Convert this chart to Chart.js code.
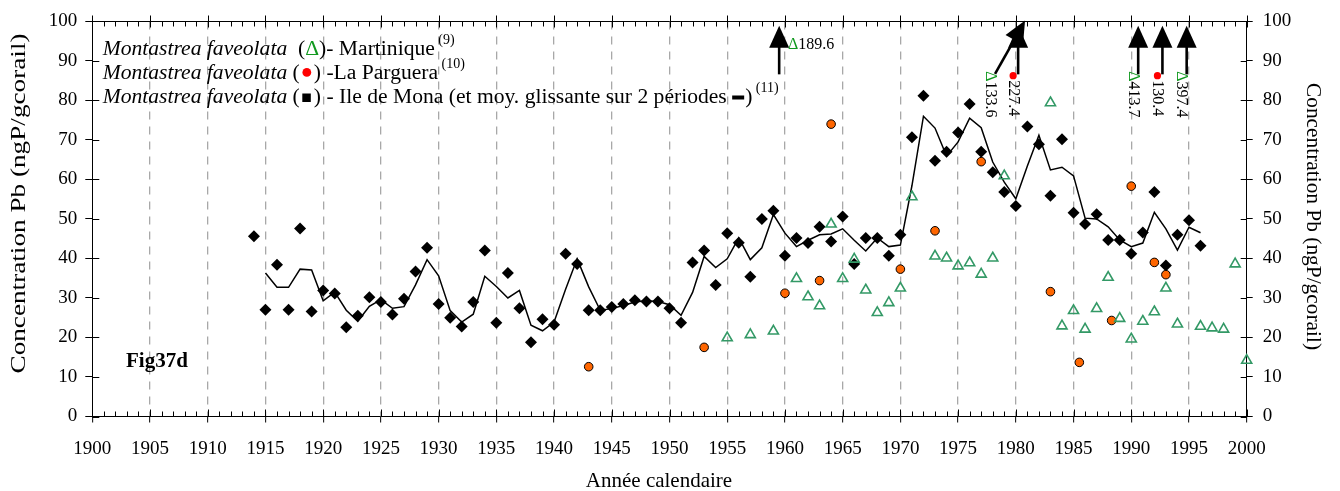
<!DOCTYPE html>
<html>
<head>
<meta charset="utf-8">
<title>Fig37d</title>
<script src="https://cdn.jsdelivr.net/npm/chart.js@4.4.1/dist/chart.umd.min.js"></script>
<style>
html,body{margin:0;padding:0;background:#ffffff;overflow:hidden;}
canvas{display:block;}
</style>
</head>
<body>
<canvas id="chart" width="1340" height="491"></canvas>
<script>
// ---------------- DATA ----------------
const monaYears = [1914,1915,1916,1917,1918,1919,1920,1921,1922,1923,1924,1925,1926,1927,1928,1929,1930,1931,1932,1933,1934,1935,1936,1937,1938,1939,1940,1941,1942,1943,1944,1945,1946,1947,1948,1949,1950,1951,1952,1953,1954,1955,1956,1957,1958,1959,1960,1961,1962,1963,1964,1965,1966,1967,1968,1969,1970,1971,1972,1973,1974,1975,1976,1977,1978,1979,1980,1981,1982,1983,1984,1985,1986,1987,1988,1989,1990,1991,1992,1993,1994,1995,1996];
const monaValues = [45.6,27.0,38.4,27.0,47.6,26.6,31.9,31.1,22.6,25.5,30.2,29.0,25.8,29.8,36.7,42.7,28.5,25.0,22.8,29.0,42.0,23.7,36.3,27.4,18.8,24.6,23.2,41.2,38.6,26.9,26.9,27.7,28.5,29.4,29.1,29.1,27.4,23.7,39.0,42.0,33.3,46.4,44.0,35.4,50.0,52.1,40.7,45.2,43.9,48.0,44.3,50.6,38.6,45.2,45.2,40.7,46.0,70.7,81.2,64.7,67.0,71.9,79.1,67.0,61.8,56.8,53.3,73.4,68.9,55.9,70.2,51.6,48.7,51.2,44.7,44.7,41.2,46.6,56.8,38.2,46.0,49.7,43.2];

const avgYears = [1915,1916,1917,1918,1919,1920,1921,1922,1923,1924,1925,1926,1927,1928,1929,1930,1931,1932,1933,1934,1935,1936,1937,1938,1939,1940,1941,1942,1943,1944,1945,1946,1947,1948,1949,1950,1951,1952,1953,1954,1955,1956,1957,1958,1959,1960,1961,1962,1963,1964,1965,1966,1967,1968,1969,1970,1971,1972,1973,1974,1975,1976,1977,1978,1979,1980,1981,1982,1983,1984,1985,1986,1987,1988,1989,1990,1991,1992,1993,1994,1995,1996];
const avgValues = [36.3,32.7,32.7,37.3,37.1,29.3,31.5,26.9,24.1,27.9,29.6,27.4,27.8,33.3,39.7,35.6,26.8,23.9,25.9,35.5,32.9,30.0,31.9,23.1,21.7,23.9,32.2,39.9,32.8,26.9,27.3,28.1,29.0,29.3,29.1,28.3,25.6,31.4,40.5,37.7,39.9,45.2,39.7,42.7,51.1,46.4,43.0,44.6,46.0,46.2,47.5,44.6,41.9,45.2,43.0,43.4,58.4,76.0,73.0,65.9,69.5,75.5,73.1,64.4,59.3,55.1,63.4,71.2,62.4,63.1,60.9,50.2,50.0,48.0,44.7,43.0,43.9,51.7,47.5,42.1,47.9,46.5];

const pargueraYears = [1943,1953,1960,1963,1964,1970,1973,1977,1983,1985.5,1988.3,1990,1992,1993];
const pargueraValues = [12.6,17.5,31.2,34.4,74.0,37.3,47.0,64.5,31.6,13.7,24.3,58.3,39.0,35.9];

const martiniqueYears = [1955,1957,1959,1961,1962,1963,1964,1965,1966,1967,1968,1969,1970,1971,1973,1974,1975,1976,1977,1978,1979,1983,1984,1985,1986,1987,1988,1989,1990,1991,1992,1993,1994,1996,1997,1998,1999,2000];
const martiniqueValues = [19.9,20.7,21.6,34.9,30.3,28.0,48.7,34.9,39.8,32.0,26.3,28.8,32.5,55.6,40.6,40.1,38.1,38.9,36.0,40.1,60.9,79.4,22.9,26.8,22.1,27.3,35.2,24.8,19.6,24.1,26.5,32.5,23.4,22.8,22.4,22.1,38.6,14.2];

// off-scale values (shown as arrows with labels)
const offScaleYears = [1959.5,1978.2,1980.2,1990.6,1992.7,1994.8];
const offScaleValues = [189.6,133.6,227.4,413.7,130.4,397.4];
const offScaleSeries = ['Martinique','Martinique','La Parguera','Martinique','La Parguera','Martinique'];

const xTickLabels = [1900,1905,1910,1915,1920,1925,1930,1935,1940,1945,1950,1955,1960,1965,1970,1975,1980,1985,1990,1995,2000];
const yTickLabels = [0,10,20,30,40,50,60,70,80,90,100];

const speciesName = 'Montastrea faveolata';
const legendTexts = [')- Martinique', ') -La Parguera', ') - Ile de Mona (et moy. glissante sur 2 périodes '];
const legendRefs = ['(9)', '(10)', '(11)'];
const xTitle = 'Année calendaire';
const yTitle = 'Concentration Pb (ngP/gcorail)';
const figLabel = 'Fig37d';

// ---------------- STYLE ----------------
const SERIF = '"Liberation Serif", "Times New Roman", Times, serif';
const GREEN_MARK = '#339966';
const GREEN_TXT = '#11991f';
const ORANGE = '#ff6600';
const RED = '#ff0000';
const LEG = 21.6;

const toXY = (xs, ys) => xs.map((v, i) => ({x: v, y: ys[i]}));

function line(ctx, x1, y1, x2, y2) {
  ctx.beginPath(); ctx.moveTo(x1, y1); ctx.lineTo(x2, y2); ctx.stroke();
}

function arrow(ctx, x1, y1, x2, y2) {
  const dx = x2 - x1, dy = y2 - y1, L = Math.hypot(dx, dy);
  const ux = dx / L, uy = dy / L;
  const hl = 22, hw = 10;
  const bx = x2 - ux * hl, by = y2 - uy * hl;
  ctx.lineWidth = 2.6;
  ctx.beginPath(); ctx.moveTo(x1, y1); ctx.lineTo(bx + ux * 2, by + uy * 2); ctx.stroke();
  ctx.beginPath();
  ctx.moveTo(x2, y2);
  ctx.lineTo(bx - uy * hw, by + ux * hw);
  ctx.lineTo(bx + uy * hw, by - ux * hw);
  ctx.closePath(); ctx.fill();
}

function rotLabel(ctx, cx, topY, series, text) {
  ctx.save();
  ctx.translate(cx, topY);
  ctx.rotate(Math.PI / 2);
  ctx.textBaseline = 'middle';
  ctx.textAlign = 'left';
  ctx.font = '16px ' + SERIF;
  let w;
  if (series === 'Martinique') {
    ctx.fillStyle = GREEN_TXT;
    ctx.fillText('\u0394', 0, 0);
    w = ctx.measureText('\u0394').width;
  } else {
    ctx.fillStyle = RED;
    ctx.beginPath(); ctx.arc(4.5, 0, 3.6, 0, Math.PI * 2); ctx.fill();
    w = 9;
  }
  ctx.fillStyle = '#000';
  ctx.fillText(text, w, 0);
  ctx.restore();
}

function stretchedText(ctx, text, cx, cy, angle, font, targetLen) {
  ctx.save();
  ctx.translate(cx, cy);
  ctx.rotate(angle);
  ctx.font = font;
  const w = ctx.measureText(text).width;
  const s = targetLen ? targetLen / w : 1;
  ctx.scale(s, 1);
  ctx.textAlign = 'center';
  ctx.textBaseline = 'middle';
  ctx.fillStyle = '#000';
  ctx.fillText(text, 0, 0);
  ctx.restore();
}

const extras = {
  id: 'extras',
  afterDraw(chart) {
    const {ctx, chartArea: a} = chart;
    const xs = chart.scales.x, ys = chart.scales.y;
    const X = v => xs.getPixelForValue(v);
    const Y = v => ys.getPixelForValue(v);
    ctx.save();
    ctx.strokeStyle = '#000';
    ctx.fillStyle = '#000';
    ctx.lineWidth = 1;
    const top = Math.round(a.top) + 0.5;
    const bot = Math.round(a.bottom) - 0.5;
    line(ctx, a.left, top, a.right, top);
    // x ticks (inner + top axis)
    for (let yr = xs.min; yr <= xs.max; yr++) {
      const px = Math.round(X(yr)) + 0.5;
      if (yr % 5 === 0) {
        line(ctx, px, bot - 7, px, bot);
        line(ctx, px, top - 6, px, top + 6);
      } else {
        line(ctx, px, bot - 5, px, bot);
        line(ctx, px, top, px, top + 5);
      }
    }
    // y ticks inward
    for (const v of yTickLabels) {
      const py = Math.round(Y(v)) + 0.5;
      line(ctx, a.left, py, a.left + 7, py);
      line(ctx, a.right - 6, py, a.right, py);
    }

    // ---- legend (text block) ----
    const lx = 102.7;
    const bases = [55, 79, 103];
    for (let i = 0; i < 3; i++) {
      const b = bases[i];
      let x = lx;
      ctx.textAlign = 'left';
      ctx.textBaseline = 'alphabetic';
      ctx.fillStyle = '#000';
      ctx.font = 'italic ' + LEG + 'px ' + SERIF;
      ctx.fillText(speciesName, x, b);
      x += ctx.measureText(speciesName).width;
      ctx.font = LEG + 'px ' + SERIF;
      const open = (i === 0 ? '  (' : ' (');
      ctx.fillText(open, x, b);
      x += ctx.measureText(open).width;
      if (i === 0) {
        ctx.fillStyle = GREEN_TXT;
        ctx.fillText('\u0394', x, b);
        x += ctx.measureText('\u0394').width;
      } else if (i === 1) {
        ctx.fillStyle = RED;
        ctx.beginPath(); ctx.arc(x + 7, b - 6.6, 4.4, 0, Math.PI * 2); ctx.fill();
        x += 14;
      } else {
        ctx.fillStyle = '#000';
        ctx.fillRect(x + 2.5, b - 9.5, 8.5, 8.5);
        x += 14;
      }
      ctx.fillStyle = '#000';
      ctx.fillText(legendTexts[i], x, b);
      x += ctx.measureText(legendTexts[i]).width;
      if (i === 2) {
        ctx.fillRect(x, b - 7.5, 12, 4);
        x += 13;
        ctx.fillText(')', x, b);
        x += ctx.measureText(')').width;
      }
      ctx.font = '14px ' + SERIF;
      ctx.fillText(' ' + legendRefs[i], x, b - 11);
    }

    // ---- Fig label ----
    ctx.font = 'bold 21px ' + SERIF;
    ctx.fillStyle = '#000';
    ctx.fillText(figLabel, 126, 366.7);

    // ---- axis titles ----
    ctx.font = '21px ' + SERIF;
    ctx.textAlign = 'center';
    ctx.fillText(xTitle, 659, 486.7);
    stretchedText(ctx, yTitle, 19.5, 203.5, -Math.PI / 2, '22px ' + SERIF, 340);
    stretchedText(ctx, yTitle, 1313, 216.5, Math.PI / 2, '21px ' + SERIF, 267);

    // ---- off-scale arrows & labels ----
    ctx.strokeStyle = '#000';
    ctx.fillStyle = '#000';
    const tailY = Y(86.6), tipY = Y(98.9);
    for (let i = 0; i < offScaleYears.length; i++) {
      const ax = X(offScaleYears[i]);
      const txt = offScaleValues[i].toFixed(1);
      if (i === 0) {
        arrow(ctx, ax, tailY, ax, tipY);
        ctx.font = '16px ' + SERIF;
        ctx.textAlign = 'left';
        ctx.textBaseline = 'alphabetic';
        const lx0 = X(1960) + 3, by0 = Y(93);
        ctx.fillStyle = GREEN_TXT;
        ctx.fillText('\u0394', lx0, by0);
        const dw = ctx.measureText('\u0394').width;
        ctx.fillStyle = '#000';
        ctx.fillText(txt, lx0 + dw, by0);
      } else if (i === 1) {
        ctx.fillStyle = '#000';
        arrow(ctx, ax, Y(86.7), X(1980.8), Y(100.2));
        rotLabel(ctx, ax - 5, Y(87.4), offScaleSeries[i], txt);
      } else {
        ctx.fillStyle = '#000';
        arrow(ctx, ax, tailY, ax, tipY);
        rotLabel(ctx, ax - 5, Y(87.4), offScaleSeries[i], txt);
      }
    }
    ctx.restore();
  }
};

const tickFont = {family: SERIF, size: 19};

new Chart(document.getElementById('chart'), {
  type: 'scatter',
  data: {
    datasets: [
      {
        label: 'Martinique',
        data: toXY(martiniqueYears, martiniqueValues),
        pointStyle: 'triangle', pointRadius: 5.8, pointBorderWidth: 1.6,
        borderColor: GREEN_MARK, pointBorderColor: GREEN_MARK,
        backgroundColor: 'rgba(0,0,0,0)', pointBackgroundColor: 'rgba(0,0,0,0)',
        order: 0, clip: false
      },
      {
        label: 'La Parguera',
        data: toXY(pargueraYears, pargueraValues),
        pointStyle: 'circle', pointRadius: 4.3, pointBorderWidth: 1,
        borderColor: '#000', pointBorderColor: '#000',
        backgroundColor: ORANGE, pointBackgroundColor: ORANGE,
        order: 1, clip: false
      },
      {
        label: 'moy. glissante',
        data: toXY(avgYears, avgValues),
        showLine: true, borderColor: '#000', borderWidth: 1.5,
        pointRadius: 0, fill: false, tension: 0,
        order: 2
      },
      {
        label: 'Ile de Mona',
        data: toXY(monaYears, monaValues),
        pointStyle: 'rectRot', pointRadius: 6, pointBorderWidth: 0,
        borderColor: '#000', pointBorderColor: '#000',
        backgroundColor: '#000', pointBackgroundColor: '#000',
        order: 3, clip: false
      }
    ]
  },
  options: {
    responsive: false,
    animation: false,
    devicePixelRatio: 1,
    events: [],
    layout: {padding: {top: 20, left: 0, right: 0, bottom: 0}},
    plugins: {legend: {display: false}, tooltip: {enabled: false}, title: {display: false}},
    scales: {
      x: {
        type: 'linear', position: 'bottom', min: 1900, max: 2000,
        afterBuildTicks: s => { s.ticks = xTickLabels.map(v => ({value: v})); },
        afterFit: s => { s.height = 74.5; },
        ticks: {font: tickFont, color: '#000', padding: 15, maxRotation: 0, minRotation: 0, autoSkip: false, callback: v => String(v)},
        grid: {
          display: true, drawOnChartArea: true, drawTicks: true, tickLength: 6, tickColor: '#000', tickWidth: 1,
          color: c => (c.tick && (c.tick.value === 1900 || c.tick.value === 2000)) ? 'rgba(0,0,0,0)' : '#a8a8a8',
          lineWidth: 1.3
        },
        border: {display: true, color: '#000', width: 1, dash: [8, 7]}
      },
      y: {
        type: 'linear', position: 'left', min: 0, max: 100,
        afterBuildTicks: s => { s.ticks = yTickLabels.map(v => ({value: v})); },
        afterFit: s => { s.width = 92.3; },
        ticks: {font: tickFont, color: '#000', padding: 8, callback: v => String(v)},
        grid: {display: true, drawOnChartArea: false, drawTicks: true, tickLength: 7, tickColor: '#000'},
        border: {display: true, color: '#000', width: 1}
      },
      y2: {
        type: 'linear', position: 'right', min: 0, max: 100,
        afterBuildTicks: s => { s.ticks = yTickLabels.map(v => ({value: v})); },
        afterFit: s => { s.width = 93.3; },
        ticks: {font: tickFont, color: '#000', padding: 10, callback: v => String(v)},
        grid: {display: true, drawOnChartArea: false, drawTicks: true, tickLength: 6, tickColor: '#000'},
        border: {display: true, color: '#000', width: 1}
      }
    }
  },
  plugins: [extras]
});
</script>
</body>
</html>
